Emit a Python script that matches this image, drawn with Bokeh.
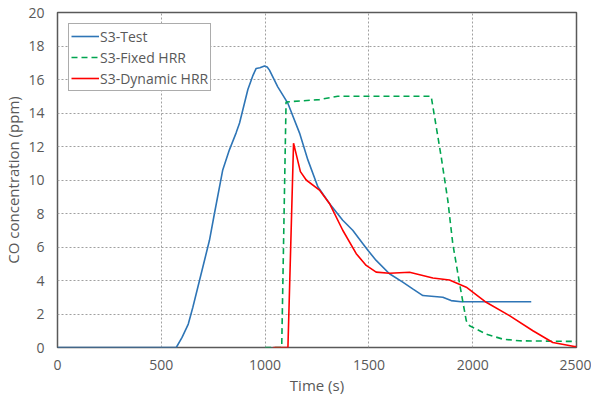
from bokeh.plotting import figure
from bokeh.models import Range1d, FixedTicker, Legend, LegendItem
from bokeh.embed import file_html
from bokeh.resources import INLINE

# S3-Test (measured)
test_t = [0, 572, 600, 630, 652, 684, 710, 732, 756, 796, 828, 860, 877, 917, 940, 957, 975, 997, 1010, 1021,
          1061, 1110, 1166, 1206, 1254, 1310, 1374, 1422, 1471, 1495, 1535, 1599, 1663, 1711, 1760, 1856,
          1896, 1944, 2282]
test_co = [0, 0, 0.6, 1.4, 2.4, 4.0, 5.3, 6.4, 8.0, 10.6, 11.8, 12.8, 13.4, 15.4, 16.2, 16.66, 16.7, 16.8, 16.75, 16.56,
           15.56, 14.57, 12.8, 11.2, 9.6, 8.6, 7.6, 7.0, 6.2, 5.8, 5.2, 4.4, 3.9, 3.5, 3.1, 3.0,
           2.8, 2.73, 2.73]

# S3-Fixed HRR
fixed_t = [1000, 1080, 1101, 1262, 1350, 1800, 1848, 1880, 1904, 1937, 1969, 1985, 2065, 2145, 2225, 2500]
fixed_co = [0, 0, 14.66, 14.8, 15.0, 15.0, 11.4, 8.8, 6.2, 3.8, 1.6, 1.3, 0.8, 0.5, 0.4, 0.36]

# S3-Dynamic HRR
dyn_t = [1040, 1110, 1137, 1170, 1198, 1262, 1310, 1374, 1439, 1487, 1535, 1599, 1696, 1808, 1888, 1969,
         2065, 2177, 2290, 2386, 2490, 2500]
dyn_co = [0, 0, 12.2, 10.5, 10.0, 9.4, 8.6, 7.0, 5.6, 4.9, 4.5, 4.43, 4.49, 4.15, 4.03, 3.6,
          2.7, 1.9, 1.0, 0.3, 0.06, 0.05]

x_ticks = [0, 500, 1000, 1500, 2000, 2500]
y_ticks = [0, 2, 4, 6, 8, 10, 12, 14, 16, 18, 20]

FONT = "Open Sans"
GREY = "#595959"

p = figure(width=584, height=398, output_backend="svg", toolbar_location=None,
           x_range=Range1d(0, 2500), y_range=Range1d(0, 20),
           min_border_left=50, min_border_right=15, min_border_top=12, min_border_bottom=51)
p.frame_width = 519
p.frame_height = 335

p.outline_line_color = GREY
p.outline_line_width = 1.5
p.outline_line_alpha = 1.0

for ax in (p.xaxis[0], p.yaxis[0]):
    ax.axis_line_color = None
    ax.major_tick_line_color = None
    ax.minor_tick_line_color = None
    ax.major_tick_in = 0
    ax.major_tick_out = 0
    ax.minor_tick_in = 0
    ax.minor_tick_out = 0
    ax.major_label_text_font = FONT
    ax.major_label_text_font_size = "14px"
    ax.major_label_text_color = GREY
    ax.axis_label_text_font = FONT
    ax.axis_label_text_font_size = "15px"
    ax.axis_label_text_font_style = "normal"
    ax.axis_label_text_color = GREY

p.xaxis.ticker = FixedTicker(ticks=x_ticks)
p.yaxis.ticker = FixedTicker(ticks=y_ticks)
p.xaxis.axis_label = "Time (s)"
p.yaxis.axis_label = "CO concentration (ppm)"
p.xaxis.major_label_standoff = 12
p.yaxis.major_label_standoff = 13
p.xaxis.axis_label_standoff = 2
p.yaxis.axis_label_standoff = 2

for g in (p.xgrid[0], p.ygrid[0]):
    g.grid_line_color = "#A0A0A0"
    g.grid_line_dash = "2 2"
    g.grid_line_width = 1

r1 = p.line(test_t, test_co, line_color="#2E75B6", line_width=1.6)
r2 = p.line(fixed_t, fixed_co, line_color="#00A550", line_width=1.6, line_dash="6 4")
r3 = p.line(dyn_t, dyn_co, line_color="#FF0000", line_width=1.6)

legend = Legend(items=[LegendItem(label="S3-Test", renderers=[r1]),
                       LegendItem(label="S3-Fixed HRR", renderers=[r2]),
                       LegendItem(label="S3-Dynamic HRR", renderers=[r3])])
legend.location = "top_left"
legend.margin = 11
legend.padding = 2
legend.spacing = 1
legend.glyph_width = 28
legend.glyph_height = 20
legend.label_height = 20
legend.label_standoff = 1
legend.label_text_font = FONT
legend.label_text_font_size = "14px"
legend.label_text_color = GREY
legend.border_line_color = GREY
legend.border_line_width = 1
legend.background_fill_color = "white"
legend.background_fill_alpha = 1.0
p.add_layout(legend, "center")

open("out.html", "w").write(file_html(p, INLINE))
